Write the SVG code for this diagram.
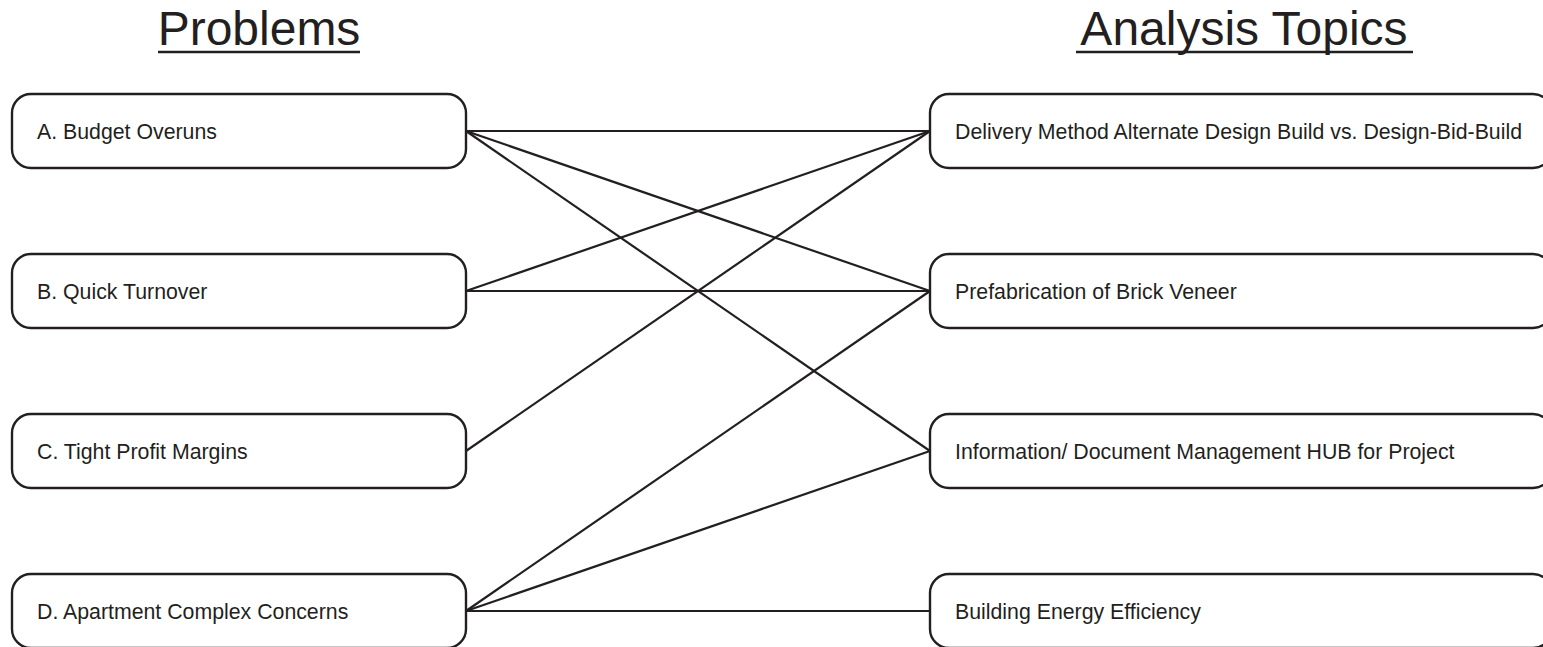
<svg xmlns="http://www.w3.org/2000/svg" width="1543" height="647" viewBox="0 0 1543 647">
<style>
.box{fill:#fff;stroke:#231f20;stroke-width:2.4}
.lbl{font-family:"Liberation Sans",Arial,sans-serif;font-size:21.3px;fill:#231f20}
.title{font-family:"Liberation Sans",Arial,sans-serif;font-size:48px;fill:#231f20;text-anchor:middle}
.ul{stroke:#231f20;stroke-width:2.6}
.conn line{stroke:#231f20;stroke-width:2.2}
</style>
<rect width="1543" height="647" fill="#fff"/>
<g id="title-problems">
<text class="title" x="259" y="45">Problems</text>
<line class="ul" x1="158" y1="52" x2="360" y2="52"/>
</g>
<g id="title-analysis">
<text class="title" x="1244" y="45">Analysis Topics</text>
<line class="ul" x1="1076" y1="52" x2="1413" y2="52"/>
</g>
<g class="conn" id="connectors">
<line x1="466" y1="131" x2="930" y2="131"/>
<line x1="466" y1="131" x2="930" y2="291"/>
<line x1="466" y1="131" x2="930" y2="451"/>
<line x1="466" y1="291" x2="930" y2="131"/>
<line x1="466" y1="291" x2="930" y2="291"/>
<line x1="466" y1="451" x2="930" y2="131"/>
<line x1="466" y1="611" x2="930" y2="291"/>
<line x1="466" y1="611" x2="930" y2="451"/>
<line x1="466" y1="611" x2="930" y2="611"/>
</g>
<g id="node-a"><rect class="box" x="12" y="94" width="454" height="74" rx="19"/><text class="lbl" x="37" y="139">A. Budget Overuns</text></g>
<g id="node-b"><rect class="box" x="12" y="254" width="454" height="74" rx="19"/><text class="lbl" x="37" y="299">B. Quick Turnover</text></g>
<g id="node-c"><rect class="box" x="12" y="414" width="454" height="74" rx="19"/><text class="lbl" x="37" y="459">C. Tight Profit Margins</text></g>
<g id="node-d"><rect class="box" x="12" y="574" width="454" height="74" rx="19"/><text class="lbl" x="37" y="619">D. Apartment Complex Concerns</text></g>
<g id="node-delivery"><rect class="box" x="930" y="94" width="622" height="74" rx="19"/><text class="lbl" x="955" y="139">Delivery Method Alternate Design Build vs. Design-Bid-Build</text></g>
<g id="node-prefab"><rect class="box" x="930" y="254" width="622" height="74" rx="19"/><text class="lbl" x="955" y="299">Prefabrication of Brick Veneer</text></g>
<g id="node-info"><rect class="box" x="930" y="414" width="622" height="74" rx="19"/><text class="lbl" x="955" y="459">Information/ Document Management HUB for Project</text></g>
<g id="node-energy"><rect class="box" x="930" y="574" width="622" height="74" rx="19"/><text class="lbl" x="955" y="619">Building Energy Efficiency</text></g>
</svg>
